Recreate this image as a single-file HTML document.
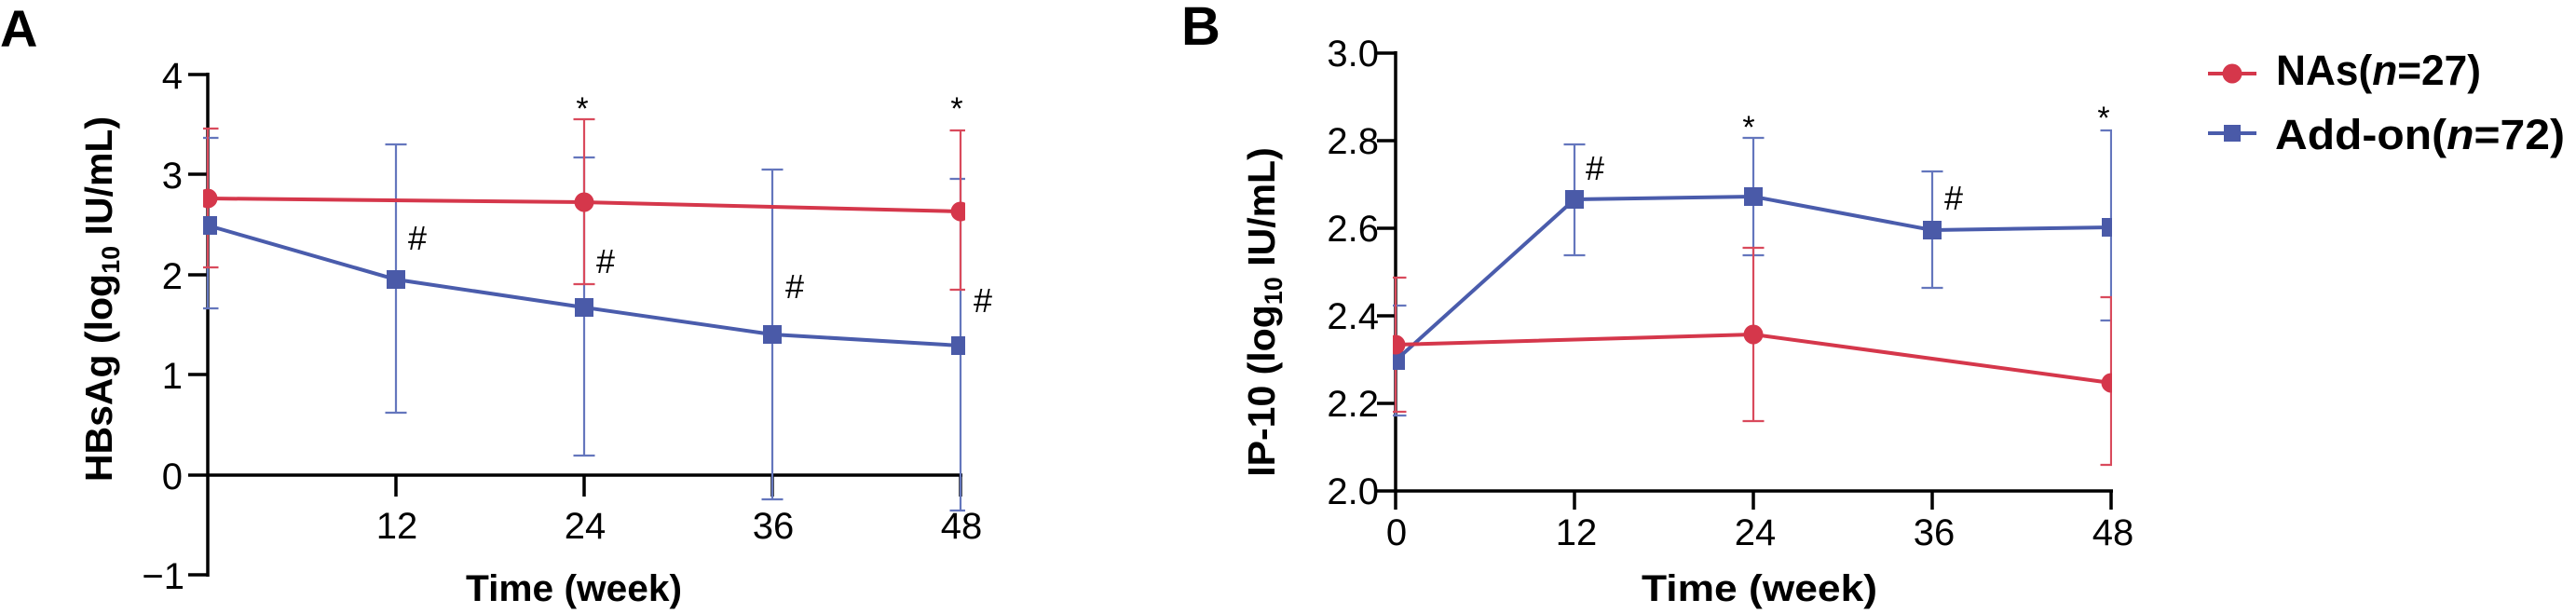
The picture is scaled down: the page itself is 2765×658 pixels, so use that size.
<!DOCTYPE html>
<html>
<head>
<meta charset="utf-8">
<style>
  html,body{margin:0;padding:0;background:#fff;}
  svg{display:block;}
  text{font-family:"Liberation Sans",Arial,sans-serif;fill:#000;}
</style>
</head>
<body>
<svg width="2765" height="658" viewBox="0 0 2765 658" xmlns="http://www.w3.org/2000/svg">
  <defs>
    <clipPath id="clipA"><rect x="218" y="0" width="818" height="658"/></clipPath>
    <clipPath id="clipB"><rect x="1495" y="0" width="772" height="658"/></clipPath>
  </defs>
  <rect width="2765" height="658" fill="#fff"/>

  <!-- ================= PANEL A ================= -->
  <text x="0" y="50" font-size="56" font-weight="bold">A</text>

  <g stroke="#000" stroke-width="3.5" fill="none">
    <line x1="223" y1="78" x2="223" y2="619"/>
    <line x1="202" y1="510" x2="1033" y2="510"/>
    <line x1="202" y1="80" x2="223" y2="80"/>
    <line x1="202" y1="187" x2="223" y2="187"/>
    <line x1="202" y1="295" x2="223" y2="295"/>
    <line x1="202" y1="402" x2="223" y2="402"/>
    <line x1="202" y1="617" x2="223" y2="617"/>
    <line x1="425" y1="510" x2="425" y2="533"/>
    <line x1="627" y1="510" x2="627" y2="533"/>
    <line x1="829" y1="510" x2="829" y2="533"/>
    <line x1="1031" y1="510" x2="1031" y2="533"/>
  </g>
  <g font-size="40" text-anchor="end">
    <text x="196" y="95">4</text>
    <text x="196" y="202">3</text>
    <text x="196" y="310">2</text>
    <text x="196" y="417">1</text>
    <text x="196" y="525">0</text>
    <text x="198" y="632">−1</text>
  </g>
  <g font-size="40" text-anchor="middle">
    <text x="426" y="578">12</text>
    <text x="628" y="578">24</text>
    <text x="830" y="578">36</text>
    <text x="1032" y="578">48</text>
  </g>
  <text x="500" y="645" font-size="40" font-weight="bold" textLength="232" lengthAdjust="spacingAndGlyphs">Time (week)</text>
  <text transform="translate(120,321) rotate(-90)" font-size="41" font-weight="bold" text-anchor="middle">HBsAg (log<tspan font-size="27" dy="8">10</tspan><tspan dy="-8"> IU/mL)</tspan></text>

  <g clip-path="url(#clipA)">
    <g stroke="#6476bd" stroke-width="2.2" fill="none">
      <path d="M223 148V331M211.5 148H234.5M211.5 331H234.5"/>
      <path d="M425 155V443M413.5 155H436.5M413.5 443H436.5"/>
      <path d="M627 169V489M615.5 169H638.5M615.5 489H638.5"/>
      <path d="M829 182V536M817.5 182H840.5M817.5 536H840.5"/>
      <path d="M1031 192V548M1019.5 192H1042.5M1019.5 548H1042.5"/>
    </g>
    <g stroke="#d94a5c" stroke-width="2.2" fill="none">
      <path d="M223 138V287M211.5 138H234.5M211.5 287H234.5"/>
      <path d="M627 128V305M615.5 128H638.5M615.5 305H638.5"/>
      <path d="M1031 140V311M1019.5 140H1042.5M1019.5 311H1042.5"/>
    </g>
    <polyline points="223,242 425,300 627,330 829,359 1031,371" fill="none" stroke="#4a5cac" stroke-width="4"/>
    <g fill="#4a5aa8">
      <rect x="213" y="232" width="20" height="20"/>
      <rect x="415" y="290" width="20" height="20"/>
      <rect x="617" y="320" width="20" height="20"/>
      <rect x="819" y="349" width="20" height="20"/>
      <rect x="1021" y="361" width="20" height="20"/>
    </g>
    <polyline points="223,213 627,217 1031,227" fill="none" stroke="#d5374b" stroke-width="4"/>
    <g fill="#d5374b">
      <circle cx="223" cy="213" r="10.5"/>
      <circle cx="627" cy="217" r="10.5"/>
      <circle cx="1031" cy="227" r="10.5"/>
    </g>
  </g>
  <g font-size="34" text-anchor="middle">
    <text x="625" y="128">*</text>
    <text x="1027" y="128">*</text>
  </g>
  <g font-size="36">
    <text x="438" y="268">#</text>
    <text x="640" y="293">#</text>
    <text x="843" y="320">#</text>
    <text x="1045" y="335">#</text>
  </g>

  <!-- ================= PANEL B ================= -->
  <text x="1268" y="48" font-size="58" font-weight="bold">B</text>

  <g stroke="#000" stroke-width="3.5" fill="none">
    <line x1="1498" y1="55" x2="1498" y2="547"/>
    <line x1="1478" y1="527" x2="2268" y2="527"/>
    <line x1="1478" y1="57" x2="1498" y2="57"/>
    <line x1="1478" y1="151" x2="1498" y2="151"/>
    <line x1="1478" y1="245" x2="1498" y2="245"/>
    <line x1="1478" y1="339" x2="1498" y2="339"/>
    <line x1="1478" y1="433" x2="1498" y2="433"/>
    <line x1="1690" y1="527" x2="1690" y2="547"/>
    <line x1="1882" y1="527" x2="1882" y2="547"/>
    <line x1="2074" y1="527" x2="2074" y2="547"/>
    <line x1="2266" y1="527" x2="2266" y2="547"/>
  </g>
  <g font-size="40" text-anchor="end">
    <text x="1480" y="71">3.0</text>
    <text x="1480" y="165">2.8</text>
    <text x="1480" y="259">2.6</text>
    <text x="1480" y="353">2.4</text>
    <text x="1480" y="447">2.2</text>
    <text x="1480" y="541">2.0</text>
  </g>
  <g font-size="40" text-anchor="middle">
    <text x="1499" y="585">0</text>
    <text x="1692" y="585">12</text>
    <text x="1884" y="585">24</text>
    <text x="2076" y="585">36</text>
    <text x="2268" y="585">48</text>
  </g>
  <text x="1762" y="645" font-size="40" font-weight="bold" textLength="253" lengthAdjust="spacingAndGlyphs">Time (week)</text>
  <text transform="translate(1368,335) rotate(-90)" font-size="41" font-weight="bold" text-anchor="middle">IP-10 (log<tspan font-size="27" dy="8">10</tspan><tspan dy="-8"> IU/mL)</tspan></text>

  <g clip-path="url(#clipB)">
    <g stroke="#6476bd" stroke-width="2.2" fill="none">
      <path d="M1498 328V446M1486.5 328H1509.5M1486.5 446H1509.5"/>
      <path d="M1690 155V274M1678.5 155H1701.5M1678.5 274H1701.5"/>
      <path d="M1882 148V274M1870.5 148H1893.5M1870.5 274H1893.5"/>
      <path d="M2074 184V309M2062.5 184H2085.5M2062.5 309H2085.5"/>
      <path d="M2266 140V344M2254.5 140H2277.5M2254.5 344H2277.5"/>
    </g>
    <g stroke="#d94a5c" stroke-width="2.2" fill="none">
      <path d="M1498 298V442M1486.5 298H1509.5M1486.5 442H1509.5"/>
      <path d="M1882 266V452M1870.5 266H1893.5M1870.5 452H1893.5"/>
      <path d="M2266 319V499M2254.5 319H2277.5M2254.5 499H2277.5"/>
    </g>
    <polyline points="1498,387 1690,214 1882,211 2074,247 2266,244" fill="none" stroke="#4a5cac" stroke-width="4"/>
    <g fill="#4a5aa8">
      <rect x="1488" y="377" width="20" height="20"/>
      <rect x="1680" y="204" width="20" height="20"/>
      <rect x="1872" y="201" width="20" height="20"/>
      <rect x="2064" y="237" width="20" height="20"/>
      <rect x="2256" y="234" width="20" height="20"/>
    </g>
    <polyline points="1498,370 1882,359 2266,411" fill="none" stroke="#d5374b" stroke-width="4"/>
    <g fill="#d5374b">
      <circle cx="1498" cy="370" r="10.5"/>
      <circle cx="1882" cy="359" r="10.5"/>
      <circle cx="2266" cy="411" r="10.5"/>
    </g>
  </g>
  <g font-size="34" text-anchor="middle">
    <text x="1877" y="148">*</text>
    <text x="2258" y="138">*</text>
  </g>
  <g font-size="36">
    <text x="1702" y="193">#</text>
    <text x="2087" y="225">#</text>
  </g>

  <!-- ================= LEGEND ================= -->
  <line x1="2370" y1="79" x2="2422" y2="79" stroke="#d5374b" stroke-width="4"/>
  <circle cx="2396" cy="79" r="10.5" fill="#d5374b"/>
  <line x1="2370" y1="143" x2="2422" y2="143" stroke="#4a5cac" stroke-width="4"/>
  <rect x="2387" y="134" width="18" height="18" fill="#4a5aa8"/>
  <text x="2443" y="91" font-size="45" font-weight="bold" textLength="220" lengthAdjust="spacingAndGlyphs">NAs(<tspan font-style="italic">n</tspan>=27)</text>
  <text x="2442" y="160" font-size="45" font-weight="bold" textLength="311" lengthAdjust="spacingAndGlyphs">Add-on(<tspan font-style="italic">n</tspan>=72)</text>
</svg>
</body>
</html>
